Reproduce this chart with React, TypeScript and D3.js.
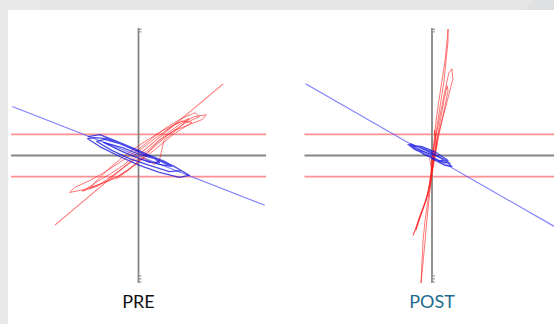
import React, { useRef, useEffect } from 'react';
import * as d3 from 'd3';

type Pt = [number, number];

// panel labels
const panelTitles = ['PRE', 'POST'];
const titleColors = ['#111111', '#1d6b8e'];

// threshold band (y units)
const bandLimits = [0.83, -0.83];

// regression lines
const preBlueLine: Pt[] = [[-4.95, 1.92], [4.95, -1.95]];
const preRedLine: Pt[] = [[-3.28, -2.73], [3.32, 2.81]];
const postBlueLine: Pt[] = [[-4.96, 2.81], [5.0, -2.9]];

// PRE red trace
const preRedTrace: Pt[] = [
  [0, -0.12], [0.43, 0.27], [1.02, 0.78], [1.6, 1.21], [2.19, 1.52], [2.66, 1.6],
  [2.5, 1.41], [1.99, 1.21], [1.41, 0.98], [0.82, 0.59], [0.35, 0.12], [0.04, -0.2],
  [-0.43, -0.59], [-0.94, -0.9], [-1.52, -1.13], [-2.11, -1.33], [-2.7, -1.45],
  [-2.5, -1.25], [-1.91, -0.98], [-1.33, -0.66], [-0.74, -0.27], [-0.16, 0.12],
  [0.43, 0.59], [1.02, 1.05], [1.68, 1.45], [2.23, 1.68], [2.38, 1.52], [1.8, 1.25],
  [1.21, 0.86], [0.63, 0.35], [0.12, -0.12], [-0.35, -0.51], [-0.82, -0.82],
  [-1.45, -1.09], [-1.91, -1.29], [-1.68, -1.05], [-1.13, -0.74], [-0.55, -0.35],
  [0.04, 0.2], [0.74, 0.74], [1.41, 1.21], [1.99, 1.45], [1.6, 1.1], [1.0, 0.6],
  [0.82, -0.2], [0.63, -0.35], [0.23, -0.12], [-0.2, -0.2], [-0.9, -0.7], [-1.6, -1.2],
  [-2.2, -1.4], [-1.8, -1.15], [-1.2, -0.55], [-0.6, -0.05], [0.1, 0.45], [0.9, 0.95],
  [1.7, 1.35], [2.1, 1.3], [1.4, 0.85], [0.6, 0.2], [-0.1, -0.35], [-0.9, -0.95],
];

// PRE blue trace
const preBlueTrace: Pt[] = [
  [-1.99, 0.74], [-1.52, 0.82], [-0.94, 0.59], [-0.16, 0.27], [0.63, -0.08],
  [1.41, -0.43], [1.99, -0.78], [1.6, -0.86], [0.82, -0.66], [0.04, -0.39],
  [-0.74, -0.04], [-1.52, 0.35], [-1.99, 0.66],
  [-1.72, 0.7], [-1.21, 0.66], [-0.55, 0.39], [0.23, 0.08], [1.02, -0.23],
  [1.68, -0.59], [1.21, -0.63], [0.43, -0.39], [-0.35, -0.12], [-1.05, 0.2],
  [-1.64, 0.55], [-1.33, 0.63], [-0.74, 0.47], [0.04, 0.12], [0.82, -0.2],
  [1.29, -0.43], [0.82, -0.35], [0.04, -0.12], [-0.74, 0.2], [-1.37, 0.51],
  [-0.6, 0.3], [0.04, 0.04], [0.63, -0.12], [0.82, -0.27], [0.43, -0.27], [0.04, -0.12],
];

// POST red trace
const postRedTrace: Pt[] = [
  [0, -0.2], [0.12, 0.59], [0.23, 1.37], [0.35, 2.15], [0.47, 2.93], [0.55, 3.71],
  [0.63, 4.49], [0.63, 4.96], [0.59, 4.49], [0.51, 3.71], [0.39, 2.93], [0.27, 2.15],
  [0.16, 1.37], [0.08, 0.59], [0, -0.2], [-0.08, -0.98], [-0.16, -1.76],
  [-0.27, -2.54], [-0.35, -3.32], [-0.39, -4.1], [-0.43, -5.0], [-0.35, -4.18],
  [-0.27, -3.32], [-0.2, -2.54], [-0.12, -1.76], [-0.04, -0.98], [0.04, 0.2],
  [0.2, 0.98], [0.35, 1.76], [0.51, 2.54], [0.66, 3.24], [0.78, 3.4], [0.82, 3.01],
  [0.7, 2.54], [0.55, 1.95], [0.39, 1.37], [0.23, 0.78], [0.12, 0.2], [0.04, -0.39],
  [-0.08, -1.17], [-0.23, -1.76], [-0.47, -2.34], [-0.66, -2.93], [-0.74, -3.13],
  [-0.59, -2.73], [-0.35, -2.07], [-0.16, -1.45], [-0.04, -0.78], [0.08, -0.12],
  [0.2, 0.59], [0.31, 1.29], [0.47, 2.15], [0.59, 2.73], [0.63, 2.54], [0.47, 1.76],
  [0.31, 0.98], [0.16, 0.27], [0.04, -0.51], [-0.08, -1.29], [-0.31, -1.95],
  [-0.55, -2.62], [-0.63, -2.93], [-0.47, -2.46], [-0.23, -1.76], [-0.08, -1.05],
  [0.04, -0.2], [0.14, 0.4], [0.1, 1.0], [0.2, 0.4], [0.0, -0.6], [-0.1, -0.1],
];

// POST blue trace
const postBlueTrace: Pt[] = [
  [-0.86, 0.47], [-0.47, 0.31], [0, 0.08], [0.51, -0.2], [0.78, -0.43], [0.51, -0.39],
  [0, -0.12], [-0.47, 0.16], [-0.78, 0.35], [-0.55, 0.35], [-0.08, 0.16], [0.39, -0.12],
  [0.7, -0.31], [0.31, -0.23], [-0.16, 0], [-0.66, 0.23], [-0.94, 0.43], [-0.39, 0.35],
  [0.16, 0.12], [0.63, -0.2], [0.23, -0.2], [-0.31, 0.04], [-0.6, 0.25], [0.1, 0.0],
];

const panels = [
  { redLine: preRedLine, blueLine: preBlueLine, redTrace: preRedTrace, blueTrace: preBlueTrace },
  { redLine: null, blueLine: postBlueLine, redTrace: postRedTrace, blueTrace: postBlueTrace },
];

export default function App() {
  const svgRef = useRef<SVGSVGElement>(null);

  useEffect(() => {
    const svg = d3.select(svgRef.current);
    svg.selectAll('*').remove();
    const width = 554;
    const height = 324;

    // page background + card
    svg.append('rect').attr('width', width).attr('height', height).attr('fill', '#e9e9ea');
    svg.append('path').attr('d', 'M40,0 L535,0 L525,10 L40,10 Z').attr('fill', '#e6e6e7');
    svg.append('path').attr('d', `M535,0 L${width},0 L${width},10 L525,10 Z`).attr('fill', '#dfe0e2');
    svg.append('rect').attr('x', 8).attr('y', 10).attr('width', width - 8).attr('height', height - 10).attr('fill', '#ffffff');

    const clip = svg.append('defs').append('clipPath').attr('id', 'card');
    clip.append('rect').attr('x', 8).attr('y', 10).attr('width', width - 8).attr('height', height - 10);

    const centers = [138.5, 432];
    const half = 127.5;

    panels.forEach((p, i) => {
      const cx = centers[i];
      const x = d3.scaleLinear().domain([-5, 5]).range([cx - half, cx + half]);
      const y = d3.scaleLinear().domain([-5, 5]).range([283, 28]);
      const line = d3.line<Pt>().x(d => x(d[0])).y(d => y(d[1]));

      const g = svg.append('g').attr('clip-path', 'url(#card)');

      // threshold band lines
      g.selectAll('.band')
        .data(bandLimits)
        .enter().append('line')
        .attr('x1', x(-5)).attr('x2', x(5))
        .attr('y1', d => y(d)).attr('y2', d => y(d))
        .attr('stroke', '#ff9090')
        .attr('stroke-width', 1.8);

      // axes
      g.append('line')
        .attr('x1', x(-5)).attr('x2', x(5))
        .attr('y1', y(0)).attr('y2', y(0))
        .attr('stroke', '#858585').attr('stroke-width', 1.8);
      g.append('line')
        .attr('x1', x(0)).attr('x2', x(0))
        .attr('y1', y(5)).attr('y2', y(-5))
        .attr('stroke', '#858585').attr('stroke-width', 1.8);

      // little tick stubs at the ends of the vertical axis
      const stubs = [4.95, 4.85, -4.72, -4.84, -4.96];
      g.selectAll('.stub')
        .data(stubs)
        .enter().append('line')
        .attr('x1', x(0)).attr('x2', x(0) + 3)
        .attr('y1', d => y(d)).attr('y2', d => y(d))
        .attr('stroke', '#9a9a9a').attr('stroke-width', 1.2);

      // fitted lines
      g.append('path').attr('d', line(p.blueLine)).attr('fill', 'none')
        .attr('stroke', '#4a4aff').attr('stroke-opacity', 0.7).attr('stroke-width', 1.2);
      if (p.redLine) {
        g.append('path').attr('d', line(p.redLine)).attr('fill', 'none')
          .attr('stroke', '#ff3030').attr('stroke-opacity', 0.65).attr('stroke-width', 1.1);
      }

      // traces
      g.append('path').attr('d', line(p.redTrace)).attr('fill', 'none')
        .attr('stroke', '#ff1a1a').attr('stroke-opacity', 0.6).attr('stroke-width', 1)
        .attr('stroke-linejoin', 'round');
      g.append('path').attr('d', line(p.blueTrace)).attr('fill', 'none')
        .attr('stroke', '#1010e0').attr('stroke-opacity', 0.75).attr('stroke-width', 1.3)
        .attr('stroke-linejoin', 'round');

      // label
      svg.append('text')
        .attr('x', cx)
        .attr('y', 308)
        .attr('text-anchor', 'middle')
        .attr('font-family', 'Lato, "Open Sans", sans-serif')
        .attr('font-size', 18)
        .attr('fill', titleColors[i])
        .text(panelTitles[i]);
    });
  }, []);

  return (
    <svg
      ref={svgRef}
      width={554}
      height={324}
      style={{ position: 'absolute', left: 0, top: 0, display: 'block' }}
    />
  );
}
